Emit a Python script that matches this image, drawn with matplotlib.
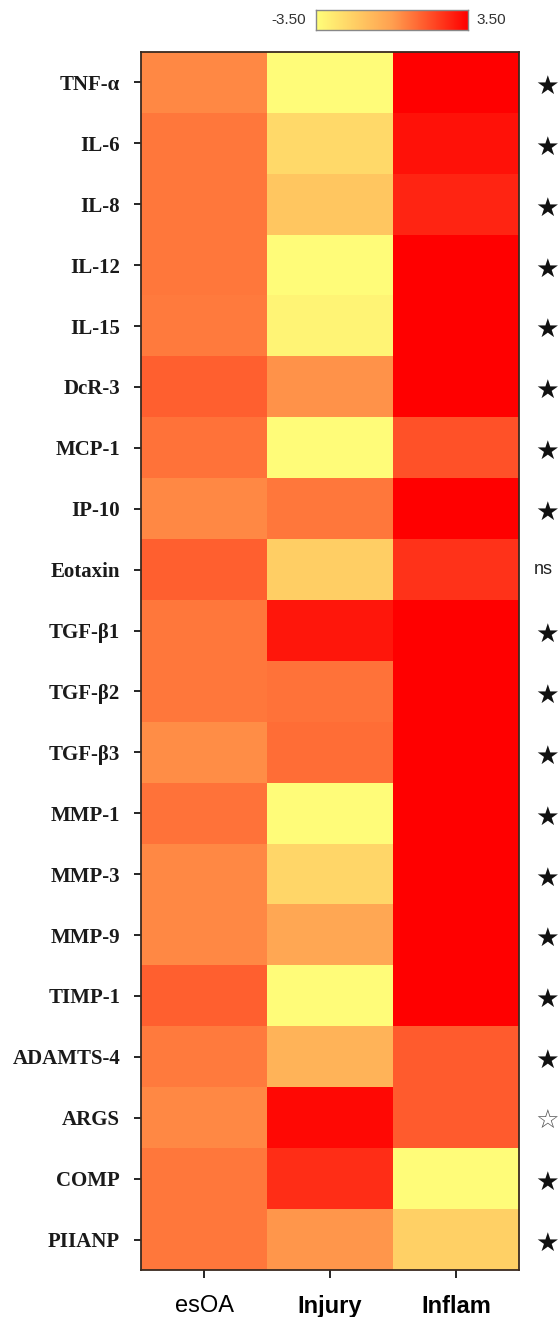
import numpy as np
import matplotlib.pyplot as plt
from matplotlib.colors import LinearSegmentedColormap

markers = ['TNF-α', 'IL-6', 'IL-8', 'IL-12', 'IL-15', 'DcR-3', 'MCP-1', 'IP-10',
           'Eotaxin', 'TGF-β1', 'TGF-β2', 'TGF-β3', 'MMP-1', 'MMP-3', 'MMP-9',
           'TIMP-1', 'ADAMTS-4', 'ARGS', 'COMP', 'PIIANP']
groups = ['esOA', 'Injury', 'Inflam']

esoa = [0.5, 0.9, 0.9, 0.9, 0.8, 1.4, 1.0, 0.5, 1.4, 0.9,
        0.9, 0.4, 1.0, 0.5, 0.5, 1.4, 0.8, 0.5, 0.9, 0.9]
injury = [-3.4, -2.1, -1.4, -3.4, -3.1, 0.3, -3.4, 0.9, -1.7, 3.0,
          1.0, 1.1, -3.4, -2.0, -0.3, -3.4, -0.7, 3.3, 2.5, 0.2]
inflam = [3.5, 3.1, 2.7, 3.5, 3.5, 3.5, 1.7, 3.5, 2.4, 3.5,
          3.5, 3.5, 3.5, 3.5, 3.5, 3.5, 1.5, 1.5, -3.4, -1.8]

# significance marks next to each row
sig = ['★'] * 8 + ['ns'] + ['★'] * 8 + ['☆', '★', '★']

vmin, vmax = -3.5, 3.5

cmap = LinearSegmentedColormap.from_list(
    'ylor', [(0.0, '#FFFF7A'), (0.5, '#FFA050'), (1.0, '#FF0000')])

data = np.array([esoa, injury, inflam]).T

fig = plt.figure(figsize=(5.6, 13.17), dpi=100)
W, H = 560, 1317
ax = fig.add_axes([141 / W, 1 - 1270 / H, (519 - 141) / W, (1270 - 52) / H])

ax.imshow(data, cmap=cmap, vmin=vmin, vmax=vmax, aspect='auto',
          interpolation='nearest')

ax.set_yticks(range(len(markers)))
ax.set_yticklabels(markers, fontfamily='Liberation Serif', fontweight='bold',
                   fontsize=15, color='#1a1a1a')
ax.set_xticks(range(len(groups)))
ax.set_xticklabels(groups, fontfamily='Liberation Sans', fontsize=17)
for lbl, w in zip(ax.get_xticklabels(), ['normal', 'bold', 'bold']):
    lbl.set_fontweight(w)
ax.tick_params(axis='y', length=5, width=1.2, pad=10)
ax.tick_params(axis='x', length=6, width=1.2, pad=12)
for s in ax.spines.values():
    s.set_linewidth(1.3)
    s.set_color('#3a2a20')

# significance column
for i, s in enumerate(sig):
    if s == 'ns':
        ax.text(1.065, i, s, transform=ax.get_yaxis_transform(),
                ha='center', va='center', fontsize=13,
                fontfamily='Liberation Sans', color='#222222')
    else:
        ax.text(1.075, i + 0.07, s, transform=ax.get_yaxis_transform(),
                ha='center', va='center', fontsize=19,
                fontfamily='DejaVu Sans',
                color='#111111' if s == '★' else '#555555')

# colour key at the top
cax = fig.add_axes([316 / W, 1 - 30 / H, (468 - 316) / W, 20 / H])
grad = np.linspace(vmin, vmax, 256).reshape(1, -1)
cax.imshow(grad, cmap=cmap, vmin=vmin, vmax=vmax, aspect='auto')
cax.set_xticks([])
cax.set_yticks([])
for s in cax.spines.values():
    s.set_color('#888888')
    s.set_linewidth(1)
fig.text(306 / W, 1 - 20 / H, f'{vmin:.2f}', ha='right', va='center',
         fontsize=11, fontfamily='Liberation Sans', color='#333333')
fig.text(476 / W, 1 - 20 / H, f'{vmax:.2f}', ha='left', va='center',
         fontsize=11, fontfamily='Liberation Sans', color='#333333')

fig.savefig('out.png', dpi=100, facecolor='white')
